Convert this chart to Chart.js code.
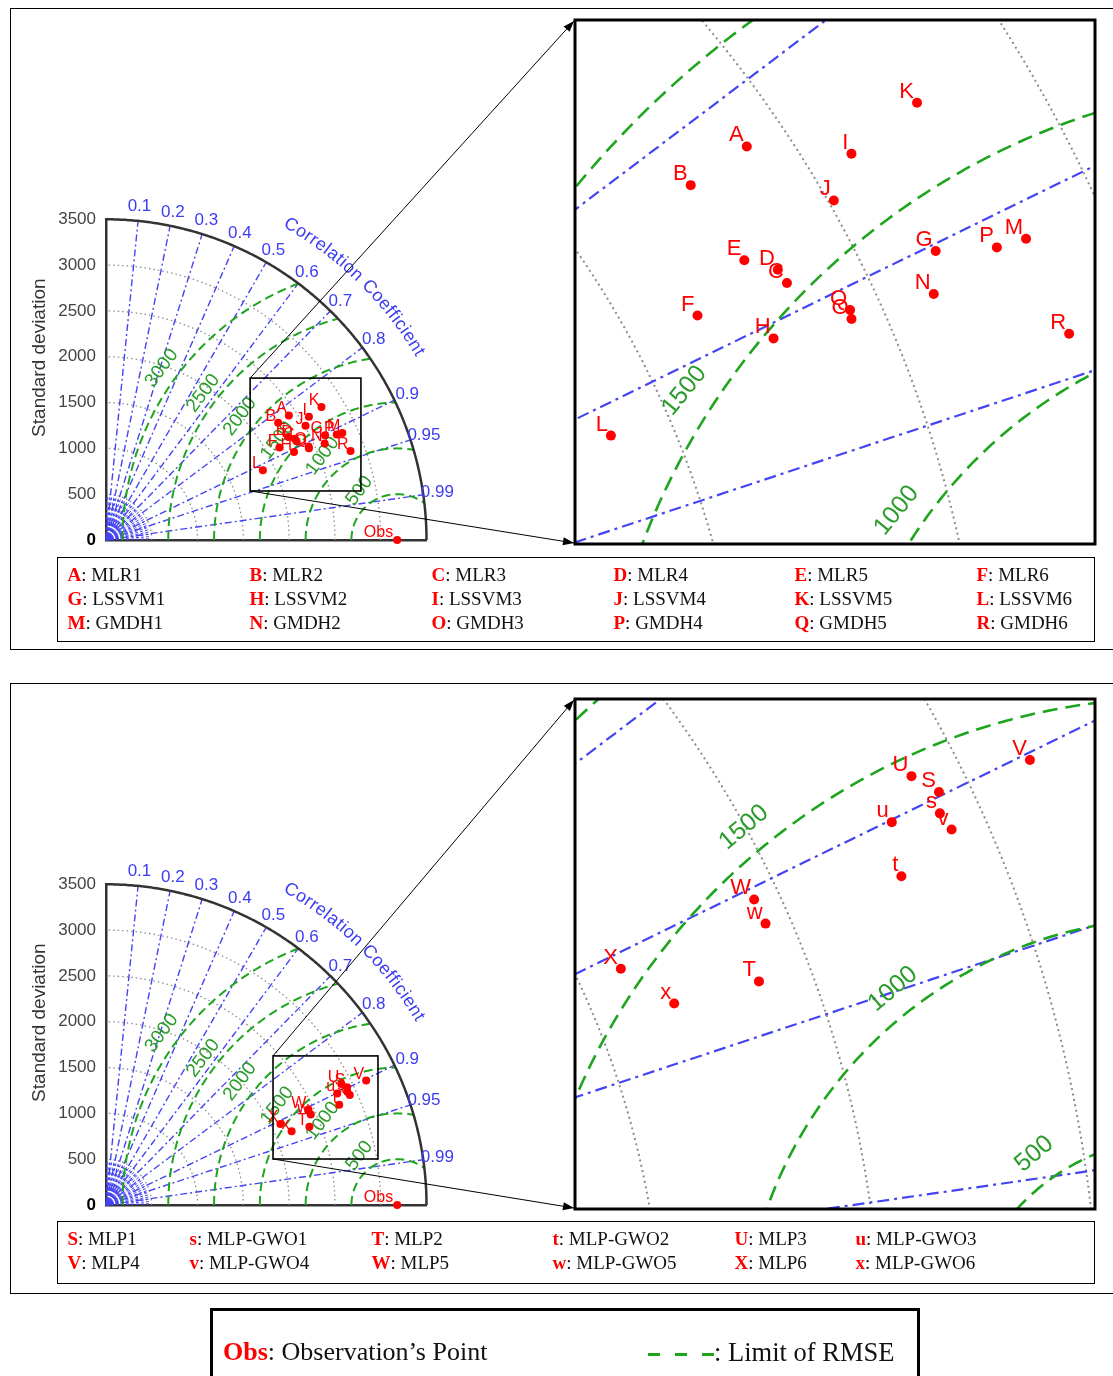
<!DOCTYPE html>
<html>
<head>
<meta charset="utf-8">
<script src="https://cdn.jsdelivr.net/npm/chart.js@4.4.1/dist/chart.umd.min.js"></script>
<style>
  body { margin: 0; width: 1113px; height: 1376px; overflow: hidden; background: #fff; position: relative; font-family: "Liberation Serif", "Times New Roman", serif; }
  canvas { position: absolute; }
  .panel { position: absolute; left: 10px; width: 1115px; border: 1.5px solid #000; box-sizing: border-box; }
  .legend { position: absolute; border: 1.5px solid #000; box-sizing: border-box; font-size: 19px; }
  .item { position: absolute; white-space: nowrap; line-height: 24px; color: #111; }
  .item b { color: #f00; }
  .key { position: absolute; left: 210px; top: 1308px; width: 710px; height: 90px; border: 3px solid #000; box-sizing: border-box; font-size: 26px; }
  .key span.dash { display: inline-block; width: 66px; height: 3px; vertical-align: middle; background: repeating-linear-gradient(90deg, #1ea51e 0 12px, transparent 12px 27px); }
</style>
</head>
<body>
<div class="panel" style="top:8px;height:642px"></div>
<div class="panel" style="top:683px;height:611px"></div>

<canvas id="main1" width="1113" height="650" style="left:0;top:0"></canvas>
<canvas id="zoom1" width="524" height="528" style="left:573px;top:18px"></canvas>
<canvas id="main2" width="1113" height="650" style="left:0;top:665px"></canvas>
<canvas id="zoom2" width="524" height="514" style="left:573px;top:697px"></canvas>

<div class="legend" id="leg1" style="left:57px;top:557px;width:1038px;height:85px"></div>
<div class="legend" id="leg2" style="left:57px;top:1221px;width:1038px;height:63px"></div>
<div class="key">
  <div class="item" style="left:10px;top:26px;line-height:30px"><b>Obs</b>: Observation’s Point</div>
  <div class="item" style="left:435px;top:26px;line-height:30px;font-size:26.5px"><span class="dash"></span>: Limit of RMSE</div>
</div>

<script>
/* ================= DATA ================= */

const stdTicks = [0, 500, 1000, 1500, 2000, 2500, 3000, 3500];
const corrTicks = [0.1, 0.2, 0.3, 0.4, 0.5, 0.6, 0.7, 0.8, 0.9, 0.95, 0.99];
const rmsLevels = [500, 1000, 1500, 2000, 2500, 3000];
const obsStd = 3180;

const codes1 = ["A", "B", "C", "D", "E", "F", "G", "H", "I", "J", "K", "L", "M", "N", "O", "P", "Q", "R"];
const models1 = ["MLR1", "MLR2", "MLR3", "MLR4", "MLR5", "MLR6",
                 "LSSVM1", "LSSVM2", "LSSVM3", "LSSVM4", "LSSVM5", "LSSVM6",
                 "GMDH1", "GMDH2", "GMDH3", "GMDH4", "GMDH5", "GMDH6"];
const std1 = [2416, 2274, 2343, 2339, 2287, 2146, 2651, 2267, 2592, 2511, 2764, 1874, 2833, 2610, 2432, 2770, 2437, 2842];
const corr1 = [0.8266, 0.8267, 0.8882, 0.8816, 0.8710, 0.8826, 0.9023, 0.9056, 0.8549, 0.8678, 0.8513, 0.9141,
               0.9110, 0.9149, 0.9112, 0.9097, 0.9081, 0.9398];

const codes2 = ["S", "s", "T", "t", "U", "u", "V", "v", "W", "w", "X", "x"];
const models2 = ["MLP1", "MLP-GWO1", "MLP2", "MLP-GWO2", "MLP3", "MLP-GWO3",
                 "MLP4", "MLP-GWO4", "MLP5", "MLP-GWO5", "MLP6", "MLP-GWO6"];
const std2 = [2930, 2911, 2380, 2772, 2890, 2803, 3149, 2920, 2443, 2444, 2100, 2181];
const corr2 = [0.8986, 0.9052, 0.9332, 0.9188, 0.8893, 0.9008, 0.9022, 0.9116, 0.9046, 0.9149, 0.9071, 0.9294];

/* ================= TAYLOR GRID PLUGIN ================= */

const BLUE = "#4444f2", GREEN = "#1ea51e", RED = "#ff0000";

const toXY = (s, r) => ({ x: s * r, y: s * Math.sqrt(1 - r * r) });

const taylor = {
    id: "taylor",
    beforeDatasetsDraw(chart, args, o) {
        const ctx = chart.ctx, a = chart.chartArea;
        const xs = chart.scales.x, ys = chart.scales.y;
        const px = (x, y) => [xs.getPixelForValue(x), ys.getPixelForValue(y)];
        const path = pts => {
            ctx.beginPath();
            pts.forEach((p, i) => {
                const q = px(p[0], p[1]);
                if (i) ctx.lineTo(q[0], q[1]); else ctx.moveTo(q[0], q[1]);
            });
            ctx.stroke();
        };
        const arc = (cx, cy, r, t0, t1) => {
            const pts = [];
            for (let i = 0; i <= 240; i++) {
                const t = t0 + (t1 - t0) * i / 240;
                pts.push([cx + r * Math.cos(t), cy + r * Math.sin(t)]);
            }
            return pts;
        };
        const R = stdTicks[stdTicks.length - 1];

        ctx.save();
        if (o.kind === "inset") {
            ctx.beginPath();
            ctx.rect(a.left, a.top, a.right - a.left, a.bottom - a.top);
            ctx.clip();
        }

        // std circles
        ctx.strokeStyle = "#8c8c8c";
        ctx.lineWidth = o.dot.w;
        ctx.setLineDash(o.dot.dash);
        stdTicks.slice(1, -1).forEach(s => path(arc(0, 0, s, 0, Math.PI / 2)));

        // dense fan round the origin
        if (o.kind === "main") {
            ctx.strokeStyle = BLUE;
            ctx.lineWidth = 1;
            ctx.setLineDash([3, 2]);
            for (let d = 1.5; d < 90; d += 3) {
                const t = d * Math.PI / 180;
                path([[0, 0], [470 * Math.cos(t), 470 * Math.sin(t)]]);
            }
            ctx.setLineDash([]);
            [110, 165].forEach(s => path(arc(0, 0, s, 0, Math.PI / 2)));
            const o0 = px(0, 0);
            ctx.fillStyle = "#1414e6";
            ctx.beginPath();
            ctx.moveTo(o0[0], o0[1]);
            ctx.arc(o0[0], o0[1], 6, -Math.PI / 2, 0);
            ctx.fill();
        }

        // correlation spokes
        ctx.strokeStyle = BLUE;
        ctx.lineWidth = o.spoke.w;
        ctx.setLineDash(o.spoke.dash);
        corrTicks.forEach(r => {
            const t = Math.acos(r);
            path([[0, 0], [R * Math.cos(t), R * Math.sin(t)]]);
        });

        // RMSE circles round Obs
        ctx.strokeStyle = GREEN;
        ctx.lineWidth = o.rms.w;
        ctx.setLineDash(o.rms.dash);
        rmsLevels.forEach(r => {
            const xi = (R * R - r * r + obsStd * obsStd) / (2 * obsStd);
            const t0 = Math.acos((xi - obsStd) / r);
            path(arc(obsStd, 0, r, Math.PI, t0));
        });

        // RMSE labels
        ctx.setLineDash([]);
        ctx.fillStyle = "#2a9c2a";
        ctx.font = o.rmsFont + 'px "Liberation Sans"';
        ctx.textAlign = "center";
        ctx.textBaseline = "middle";
        rmsLevels.forEach(r => {
            const lp = o.rmsLabels[r];
            if (!lp) return;
            const t = lp[1] * Math.PI / 180;
            const q = px(obsStd + lp[0] * Math.cos(t), lp[0] * Math.sin(t));
            ctx.save();
            ctx.translate(q[0], q[1]);
            ctx.rotate(-o.rmsRot * Math.PI / 180);
            ctx.fillText(String(r), 0, 0);
            ctx.restore();
        });

        if (o.kind === "main") {
            // outer arc
            ctx.strokeStyle = "#333";
            ctx.lineWidth = 2.5;
            path(arc(0, 0, R, 0, Math.PI / 2));

            // correlation tick labels
            ctx.fillStyle = "#3c3cf0";
            ctx.font = '17px "Liberation Sans"';
            corrTicks.forEach(r => {
                const t = Math.acos(r);
                const q = px(3655 * Math.cos(t), 3655 * Math.sin(t));
                ctx.fillText(String(r), q[0], q[1]);
            });

            // curved axis title
            const o0 = px(0, 0);
            const rp = xs.getPixelForValue(3985) - o0[0];
            const text = "Correlation Coefficient";
            ctx.font = '18px "Liberation Sans"';
            const sp = 0.6;
            const total = ctx.measureText(text).width + sp * (text.length - 1);
            let ang = 45.6 * Math.PI / 180 + total / 2 / rp;
            for (const ch of text) {
                const w = ctx.measureText(ch).width;
                const mid = ang - w / 2 / rp;
                ctx.save();
                ctx.translate(o0[0] + rp * Math.cos(mid), o0[1] - rp * Math.sin(mid));
                ctx.rotate(Math.PI / 2 - mid);
                ctx.fillText(ch, 0, 0);
                ctx.restore();
                ang -= (w + sp) / rp;
            }

            // y title
            ctx.fillStyle = "#333";
            ctx.font = '19px "Liberation Sans"';
            ctx.save();
            ctx.translate(40, ys.getPixelForValue(1990));
            ctx.rotate(-Math.PI / 2);
            ctx.fillText("Standard deviation", 0, 0);
            ctx.restore();
        }
        ctx.restore();
    },

    afterDatasetsDraw(chart, args, o) {
        const ctx = chart.ctx, a = chart.chartArea;
        const xs = chart.scales.x, ys = chart.scales.y;
        ctx.save();
        if (o.kind === "inset") {
            ctx.beginPath();
            ctx.rect(a.left, a.top, a.right - a.left, a.bottom - a.top);
            ctx.clip();
        }
        // point letters
        const meta = chart.getDatasetMeta(0);
        ctx.fillStyle = RED;
        ctx.font = o.labelFont + 'px "Liberation Sans"';
        ctx.textAlign = "right";
        ctx.textBaseline = "alphabetic";
        meta.data.forEach((el, i) => {
            ctx.fillText(o.codes[i], el.x + o.lab[0], el.y + o.lab[1]);
        });
        ctx.restore();

        if (o.kind === "main") {
            const ob = chart.getDatasetMeta(1).data[0];
            ctx.fillStyle = RED;
            ctx.font = '16px "Liberation Sans"';
            ctx.textAlign = "right";
            ctx.fillText("Obs", ob.x - 4, ob.y - 3);

            // zoom box
            const b = o.box;
            const x0 = xs.getPixelForValue(b[0]), x1 = xs.getPixelForValue(b[1]);
            const y0 = ys.getPixelForValue(b[2]), y1 = ys.getPixelForValue(b[3]);
            ctx.strokeStyle = "#000";
            ctx.lineWidth = 1.6;
            ctx.strokeRect(x0, y1, x1 - x0, y0 - y1);

            // links to the inset, with arrow heads
            [[x0, y1, o.arrows[0]], [x0, y0, o.arrows[1]]].forEach(([sx, sy, tg]) => {
                ctx.lineWidth = 1;
                ctx.beginPath();
                ctx.moveTo(sx, sy);
                ctx.lineTo(tg[0], tg[1]);
                ctx.stroke();
                const t = Math.atan2(tg[1] - sy, tg[0] - sx);
                ctx.fillStyle = "#000";
                ctx.beginPath();
                ctx.moveTo(tg[0], tg[1]);
                ctx.lineTo(tg[0] - 11 * Math.cos(t) + 4 * Math.sin(t), tg[1] - 11 * Math.sin(t) - 4 * Math.cos(t));
                ctx.lineTo(tg[0] - 11 * Math.cos(t) - 4 * Math.sin(t), tg[1] - 11 * Math.sin(t) + 4 * Math.cos(t));
                ctx.closePath();
                ctx.fill();
            });
        } else {
            ctx.strokeStyle = "#000";
            ctx.lineWidth = 3;
            ctx.strokeRect(a.left, a.top, a.right - a.left, a.bottom - a.top);
        }
    }
};

/* ================= CHARTS ================= */

const mainStyle = {
    kind: "main",
    dot: { w: 1.3, dash: [1.5, 3] },
    spoke: { w: 1.4, dash: [7, 3, 2, 3] },
    rms: { w: 2, dash: [9, 5] },
    rmsFont: 19,
    rmsRot: 53,
    rmsLabels: { 500: [678, 127.5], 1000: [1226, 131.6], 1500: [1700, 140.4],
                 2000: [2182, 141.9], 2500: [2655, 142.9], 3000: [3183, 143.9] },
    labelFont: 16,
    lab: [-2, -2]
};

function makeMain(id, codes, std, corr, box, arrows) {
    const pts = std.map((s, i) => toXY(s, corr[i]));
    return new Chart(document.getElementById(id), {
        type: "scatter",
        data: {
            datasets: [
                { data: pts, pointRadius: 4, pointBackgroundColor: RED, pointBorderWidth: 0, clip: false },
                { data: [{ x: obsStd, y: 0 }], pointRadius: 4, pointBackgroundColor: RED, pointBorderWidth: 0, clip: false }
            ]
        },
        options: {
            responsive: false,
            animation: false,
            devicePixelRatio: 1,
            events: [],
            layout: { autoPadding: false, padding: { top: 219.3, right: 686.5, bottom: 110, left: 0 } },
            scales: {
                x: {
                    type: "linear", min: 0, max: 3500,
                    ticks: { display: false },
                    grid: { display: false, drawTicks: false },
                    border: { display: true, color: "#333", width: 2.5 },
                    afterFit: s => { s.height = 0; }
                },
                y: {
                    type: "linear", min: 0, max: 3500,
                    ticks: {
                        stepSize: 500, padding: 10,
                        callback: v => String(v),
                        color: c => (c.tick && c.tick.value === 0) ? "#000" : "#444",
                        font: c => ({ family: "Liberation Sans", size: 17,
                                      weight: (c.tick && c.tick.value === 0) ? "bold" : "normal" })
                    },
                    grid: { display: false, drawTicks: false },
                    border: { display: true, color: "#333", width: 2.5 },
                    afterFit: s => { s.width = 106; }
                }
            },
            plugins: {
                legend: { display: false },
                tooltip: { enabled: false },
                taylor: Object.assign({}, mainStyle, { codes: codes, box: box, arrows: arrows })
            }
        },
        plugins: [taylor]
    });
}

function makeInset(id, codes, std, corr, xr, yr, style) {
    const pts = std.map((s, i) => toXY(s, corr[i]));
    return new Chart(document.getElementById(id), {
        type: "scatter",
        data: {
            datasets: [
                { data: pts, pointRadius: 5, pointBackgroundColor: RED, pointBorderWidth: 0 }
            ]
        },
        options: {
            responsive: false,
            animation: false,
            devicePixelRatio: 1,
            events: [],
            layout: { autoPadding: false, padding: 2 },
            scales: {
                x: { type: "linear", min: xr[0], max: xr[1], display: false },
                y: { type: "linear", min: yr[0], max: yr[1], display: false }
            },
            plugins: {
                legend: { display: false },
                tooltip: { enabled: false },
                taylor: Object.assign({
                    kind: "inset",
                    dot: { w: 2, dash: [2, 3.5] },
                    spoke: { w: 2.2, dash: [12, 5, 3, 5] },
                    rms: { w: 2.6, dash: [15, 8] },
                    rmsFont: 25,
                    labelFont: 22,
                    lab: [-3, -5],
                    codes: codes
                }, style)
            }
        },
        plugins: [taylor]
    });
}

makeMain("main1", codes1, std1, corr1, [1574, 2784, 535, 1767], [[574, 21], [574, 543]]);
makeInset("zoom1", codes1, std1, corr1, [1638, 2725], [535, 1622],
          { rmsRot: 51, rmsLabels: { 1000: [1059, 145.2], 1500: [1566, 147] } });

makeMain("main2", codes2, std2, corr2, [1824, 2970, 502, 1627], [[574, 35], [574, 543]]);
makeInset("zoom2", codes2, std2, corr2, [1800, 2990], [338, 1497],
          { rmsRot: 40, rmsLabels: { 500: [568, 125.4], 1000: [1062, 127.9], 1500: [1562, 129.5] } });

/* ================= LEGENDS ================= */

function legend(id, codes, models, cols, rows) {
    const box = document.getElementById(id);
    codes.forEach((c, i) => {
        const d = document.createElement("div");
        d.className = "item";
        d.style.left = cols[i % cols.length] + "px";
        d.style.top = rows[Math.floor(i / cols.length)] + "px";
        d.innerHTML = "<b>" + c + "</b>: " + models[i];
        box.appendChild(d);
    });
}

legend("leg1", codes1, models1, [9.5, 191.5, 373.5, 555.5, 736.5, 918.5], [4.5, 28.5, 52.5]);
legend("leg2", codes2, models2, [9.5, 131.5, 313.5, 494.5, 676.5, 797.5], [4.5, 28.5]);
</script>
</body>
</html>
